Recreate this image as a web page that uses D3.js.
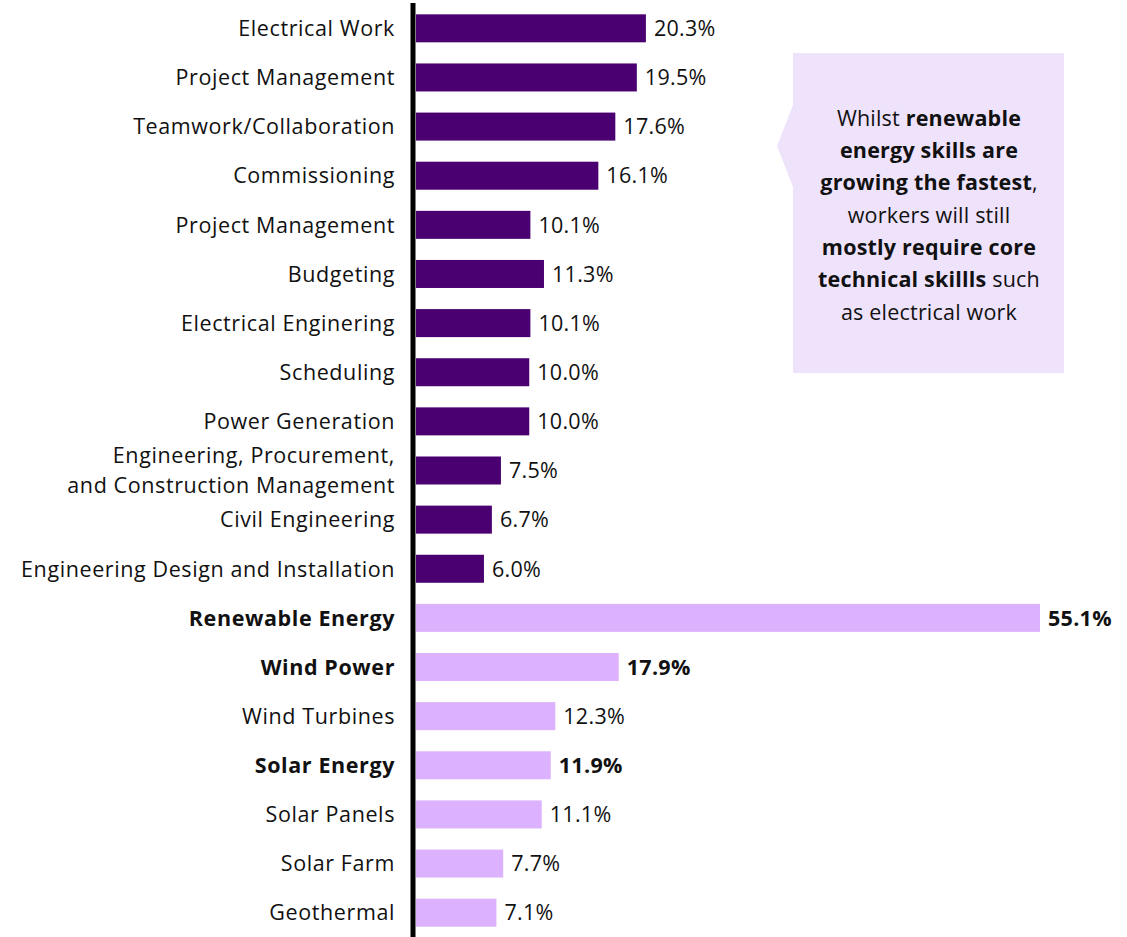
<!DOCTYPE html>
<html>
<head>
<meta charset="utf-8">
<script src="https://cdn.jsdelivr.net/npm/d3@7"></script>
<style>
  body { margin: 0; background: #fff; }
  svg { display: block; font-family: "Open Sans", Lato, sans-serif; }
</style>
</head>
<body>
<svg id="chart" width="1127" height="937"></svg>
<script>
// skill names, top to bottom
var skills = [
  'Electrical Work', 'Project Management', 'Teamwork/Collaboration', 'Commissioning',
  'Project Management', 'Budgeting', 'Electrical Enginering', 'Scheduling',
  'Power Generation', 'Engineering, Procurement,|and Construction Management',
  'Civil Engineering', 'Engineering Design and Installation',
  'Renewable Energy', 'Wind Power', 'Wind Turbines', 'Solar Energy',
  'Solar Panels', 'Solar Farm', 'Geothermal'
]
var shares = [20.3, 19.5, 17.6, 16.1, 10.1, 11.3, 10.1, 10.0, 10.0, 7.5, 6.7, 6.0,
  55.1, 17.9, 12.3, 11.9, 11.1, 7.7, 7.1]
// 'core' = dark purple, 'green' = light purple
var groups = ['core', 'core', 'core', 'core', 'core', 'core', 'core', 'core', 'core', 'core', 'core', 'core',
  'green', 'green', 'green', 'green', 'green', 'green', 'green']
var boldRows = ['Renewable Energy', 'Wind Power', 'Solar Energy']

var calloutLines = [
  [['Whilst ', false], ['renewable', true]],
  [['energy skills are', true]],
  [['growing the fastest', true], [',', false]],
  [['workers will still', false]],
  [['mostly require core', true]],
  [['technical skillls', true], [' such', false]],
  [['as electrical work', false]]
]

var svg = d3.select('#chart')
var x0 = 416
var fs = 21.5

var x = d3.scaleLinear().domain([0, 55.1]).range([x0, 1040])
var y = d3.scaleBand().domain(d3.range(skills.length)).range([4, 937]).paddingInner(0.43).paddingOuter(0.21)

var color = { core: '#4a0070', green: '#dcb1fd' }
var rows = skills.map(function(s, i) {
  return { name: s, val: shares[i], grp: groups[i], bold: boldRows.indexOf(s) >= 0, i: i }
})

// bars
svg.append('g').selectAll('rect').data(rows).enter().append('rect')
  .attr('x', x0)
  .attr('y', function(d) { return y(d.i) })
  .attr('width', function(d) { return x(d.val) - x0 })
  .attr('height', y.bandwidth())
  .attr('fill', function(d) { return color[d.grp] })

// value labels
svg.append('g').selectAll('text').data(rows).enter().append('text')
  .attr('x', function(d) { return x(d.val) + 8 })
  .attr('y', function(d) { return y(d.i) + y.bandwidth() / 2 })
  .attr('dy', '0.36em')
  .attr('font-size', fs)
  .attr('letter-spacing', 0.3)
  .attr('font-weight', function(d) { return d.bold ? 'bold' : 'normal' })
  .attr('fill', '#111')
  .text(function(d) { return d.val.toFixed(1) + '%' })

// category labels
var lab = svg.append('g').selectAll('text').data(rows).enter().append('text')
  .attr('x', 395)
  .attr('y', function(d) { return y(d.i) + y.bandwidth() / 2 })
  .attr('text-anchor', 'end')
  .attr('font-size', fs)
  .attr('letter-spacing', 0.6)
  .attr('font-weight', function(d) { return d.bold ? 'bold' : 'normal' })
  .attr('fill', '#111')

lab.each(function(d) {
  var parts = d.name.split('|')
  var t = d3.select(this)
  parts.forEach(function(p, k) {
    t.append('tspan').attr('x', 395)
      .attr('dy', k == 0 ? (0.36 - (parts.length - 1) * 0.7) + 'em' : '1.4em')
      .text(p)
  })
})

// axis line
svg.append('line')
  .attr('x1', 413).attr('x2', 413).attr('y1', 3).attr('y2', 937)
  .attr('stroke', '#000').attr('stroke-width', 5)

// callout
svg.append('path')
  .attr('d', 'M793,53 L1064,53 L1064,373 L793,373 L793,187 L777,146 L793,105 Z')
  .attr('fill', '#efe3fc')

var ct = svg.append('g').selectAll('text').data(calloutLines).enter().append('text')
  .attr('x', 929)
  .attr('y', function(d, i) { return 118 + i * 32.3 })
  .attr('dy', '0.36em')
  .attr('text-anchor', 'middle')
  .attr('font-size', fs)
  .attr('letter-spacing', 0.2)
  .attr('fill', '#111')
ct.each(function(line) {
  var t = d3.select(this)
  line.forEach(function(seg) {
    t.append('tspan').attr('font-weight', seg[1] ? 'bold' : 'normal').text(seg[0])
  })
})
</script>
</body>
</html>
